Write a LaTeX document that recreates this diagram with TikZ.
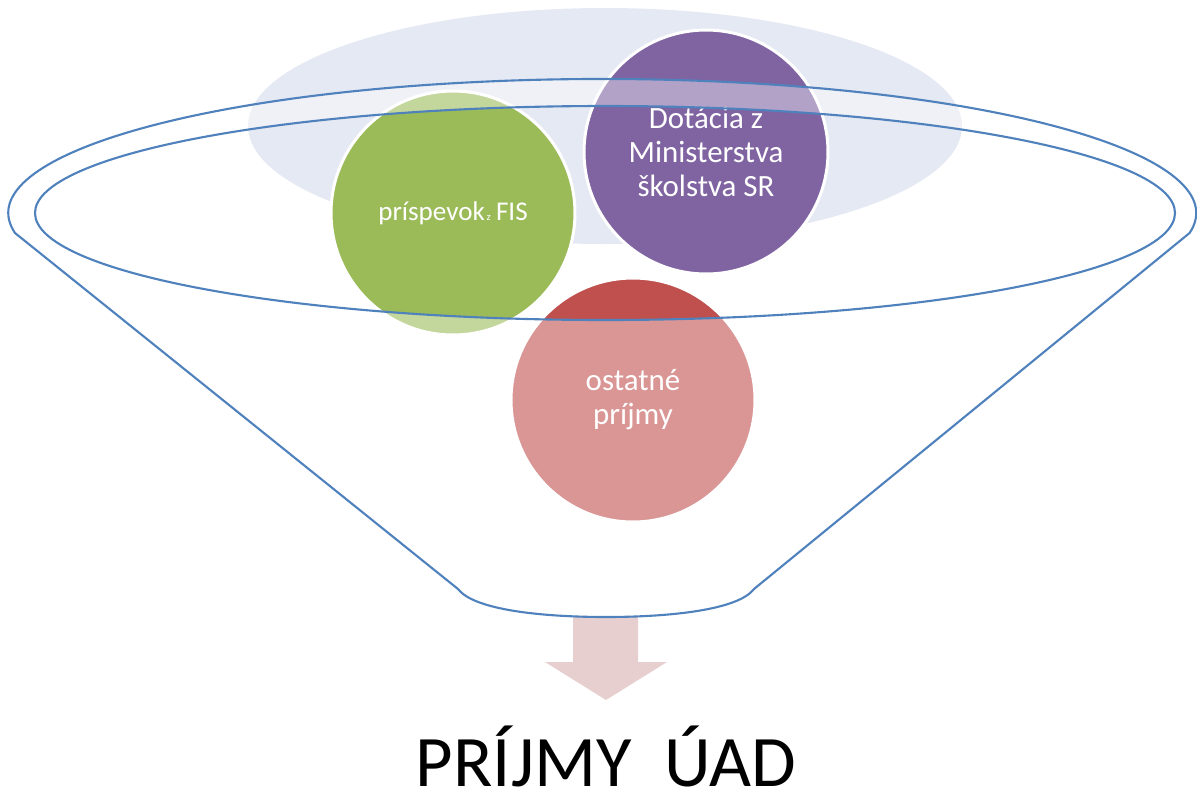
\documentclass[tikz,border=0pt]{standalone}
\usepackage{fontspec}
\setmainfont{Carlito}
\usepackage{tikz}

\definecolor{rimblue}{HTML}{4F81BD}
\definecolor{haze}{HTML}{E5E9F3}
\definecolor{fisgreen}{HTML}{9BBB59}
\definecolor{minpurple}{HTML}{8064A2}
\definecolor{othred}{HTML}{C0504D}
\definecolor{arrowpink}{HTML}{E7CFD0}

\tikzset{
  bubble/.style={circle, minimum size=4.88cm, inner sep=0pt, draw=white,
    line width=1.7pt, text=white, align=center},
  rim/.style={draw=rimblue, line width=1.2pt}
}

\begin{document}
\begin{tikzpicture}[x=0.02cm, y=-0.02cm]
      \useasboundingbox (0,0) rectangle (1197,795);

      % haze behind the circles
      \fill[haze] (605,126) ellipse [x radius=357, y radius=118];

      % circles
      \node[bubble, fill=fisgreen, font={\fontsize{15.4}{18}\selectfont}] (fis) at (453,213)
        {príspevok\kern1pt{\fontsize{6}{7}\selectfont z}\kern3pt FIS};
      \node[bubble, fill=minpurple, font={\fontsize{17.6}{19.4}\selectfont}] (min) at (706,152)
        {Dotácia z\\Ministerstva\\školstva SR};
      \node[bubble, fill=othred, font={\fontsize{17.6}{19.4}\selectfont}] (other) at (633,400)
        {ostatné\\príjmy};

      % arrow
      \fill[arrowpink] (573,617) -- (638,617) -- (638,662) -- (667,662)
        -- (606,700) -- (545,662) -- (573,662) -- cycle;

      % funnel glass
      \fill[white, fill opacity=0.4, even odd rule]
        (15,233) arc [start angle=171.4, end angle=368.6, x radius=594, y radius=134]
        -- (754,589) .. controls (738,610) and (670,617) .. (606,617)
        .. controls (542,617) and (474,610) .. (458,589) -- cycle
        (605,213) ellipse [x radius=570, y radius=107];

      % funnel outline
      \draw[rim] (15,233) arc [start angle=171.4, end angle=368.6, x radius=594, y radius=134]
        -- (754,589) .. controls (738,610) and (670,617) .. (606,617)
        .. controls (542,617) and (474,610) .. (458,589) -- cycle;
      \draw[rim] (605,213) ellipse [x radius=570, y radius=107];

      % result
      \node[anchor=base, font={\fontsize{41.3}{48}\selectfont}, inner sep=0pt] (total) at (606,786)
        {PRÍJMY\ \ ÚAD};
\end{tikzpicture}
\end{document}
